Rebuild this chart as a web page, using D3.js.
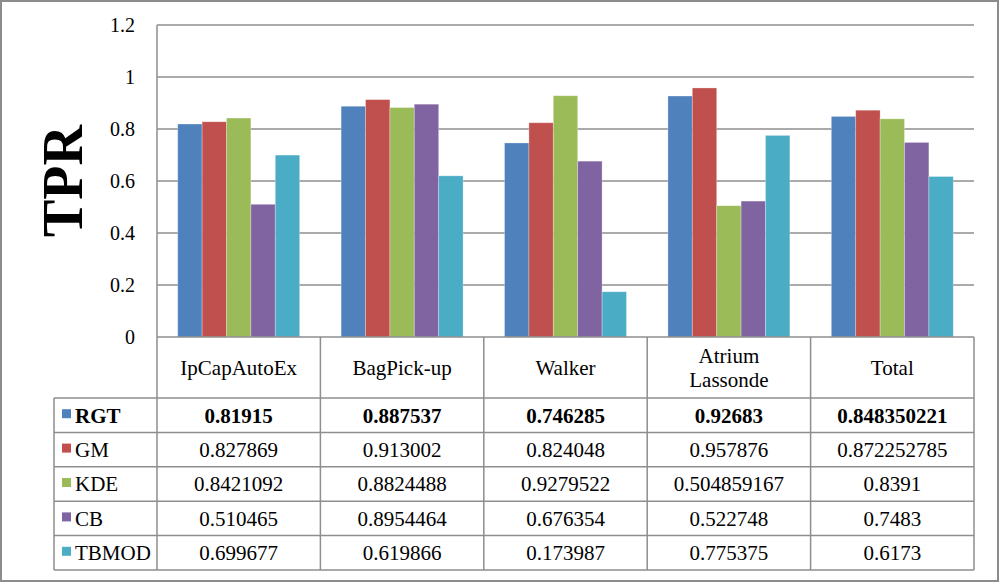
<!DOCTYPE html>
<html>
<head>
<meta charset="utf-8">
<script src="https://cdn.jsdelivr.net/npm/d3@7"></script>
<style>
  body { margin: 0; background: #fff; }
  text { font-family: "Liberation Serif", "Times New Roman", serif; fill: #000; }
</style>
</head>
<body>
<div id="chart"></div>
<script>
// categories, series and values (from the data table)
const categories = ["IpCapAutoEx", "BagPick-up", "Walker", "Atrium\nLassonde", "Total"];
const seriesNames = ["RGT", "GM", "KDE", "CB", "TBMOD"];
const seriesColors = ["#4F81BD", "#C0504D", "#9BBB59", "#8064A2", "#4BACC6"];
const RGT = [0.81915, 0.887537, 0.746285, 0.92683, 0.848350221];
const GM = [0.827869, 0.913002, 0.824048, 0.957876, 0.872252785];
const KDE = [0.8421092, 0.8824488, 0.9279522, 0.504859167, 0.8391];
const CB = [0.510465, 0.8954464, 0.676354, 0.522748, 0.7483];
const TBMOD = [0.699677, 0.619866, 0.173987, 0.775375, 0.6173];
const yTicks = [0, 0.2, 0.4, 0.6, 0.8, 1, 1.2];

const seriesValues = [RGT, GM, KDE, CB, TBMOD];
const labelsText = [
  ["0.81915", "0.887537", "0.746285", "0.92683", "0.848350221"],
  ["0.827869", "0.913002", "0.824048", "0.957876", "0.872252785"],
  ["0.8421092", "0.8824488", "0.9279522", "0.504859167", "0.8391"],
  ["0.510465", "0.8954464", "0.676354", "0.522748", "0.7483"],
  ["0.699677", "0.619866", "0.173987", "0.775375", "0.6173"]
];

const W = 1000, H = 583;
const plotLeft = 157, plotRight = 974, plotTop = 25, zeroY = 337;
const headerBottom = 398, rowH = 34.4, legendLeft = 54;
const gridColor = "#8e8e8e";

const svg = d3.select("#chart").append("svg")
  .attr("width", W).attr("height", H);

// outer frame
svg.append("rect")
  .attr("x", 1).attr("y", 1).attr("width", 997).attr("height", 580)
  .attr("fill", "#fff").attr("stroke", "#8c8c8c").attr("stroke-width", 2);

const x = d3.scaleBand().domain(categories).range([plotLeft, plotRight]);
const y = d3.scaleLinear().domain([0, 1.2]).range([zeroY, plotTop]);
const xs = d3.scaleBand().domain(seriesNames)
  .range([0, x.bandwidth()]).paddingOuter(0.85).paddingInner(0);

// gridlines
svg.append("g").selectAll("line")
  .data(yTicks.filter(d => d > 0))
  .join("line")
  .attr("x1", plotLeft).attr("x2", plotRight)
  .attr("y1", d => y(d)).attr("y2", d => y(d))
  .attr("stroke", gridColor).attr("stroke-width", 1.5);

// y tick labels
svg.append("g").selectAll("text")
  .data(yTicks)
  .join("text")
  .attr("x", 135).attr("y", d => y(d))
  .attr("dy", "0.35em")
  .attr("text-anchor", "end")
  .style("font-size", "20px")
  .text(d => d3.format("")(d));

// bars
const groups = svg.append("g").selectAll("g")
  .data(seriesNames)
  .join("g")
  .attr("fill", (d, i) => seriesColors[i]);

groups.selectAll("rect")
  .data((s, si) => categories.map((c, ci) => ({ c, s, v: seriesValues[si][ci] })))
  .join("rect")
  .attr("x", d => x(d.c) + xs(d.s))
  .attr("y", d => y(d.v))
  .attr("width", xs.bandwidth())
  .attr("height", d => zeroY - y(d.v))
  .attr("stroke", "#fff").attr("stroke-opacity", 0.35).attr("stroke-width", 0.8);

// table lines
const tableBottom = headerBottom + rowH * seriesNames.length;
const tl = svg.append("g").attr("stroke", gridColor).attr("stroke-width", 1.5);
tl.append("line").attr("x1", plotLeft).attr("x2", plotRight).attr("y1", zeroY).attr("y2", zeroY);
d3.range(seriesNames.length + 1).forEach(i => {
  const yy = headerBottom + i * rowH;
  tl.append("line").attr("x1", legendLeft).attr("x2", plotRight).attr("y1", yy).attr("y2", yy);
});
tl.append("line").attr("x1", plotLeft).attr("x2", plotLeft).attr("y1", plotTop).attr("y2", tableBottom);
categories.forEach(c => {
  const xx = x(c) + x.bandwidth();
  tl.append("line").attr("x1", xx).attr("x2", xx).attr("y1", zeroY).attr("y2", tableBottom);
});
tl.append("line").attr("x1", legendLeft).attr("x2", legendLeft).attr("y1", headerBottom).attr("y2", tableBottom);

// category header labels
svg.append("g").selectAll("text")
  .data(categories)
  .join("text")
  .attr("text-anchor", "middle")
  .style("font-size", "21px")
  .each(function (c) {
    const lines = c.split("\n");
    const cy = (zeroY + headerBottom) / 2;
    d3.select(this).selectAll("tspan")
      .data(lines)
      .join("tspan")
      .attr("x", x(c) + x.bandwidth() / 2)
      .attr("y", (d, i) => cy + (i - (lines.length - 1) / 2) * 24)
      .attr("dy", "0.35em")
      .text(d => d);
  });

// legend column + values
const rows = svg.append("g").selectAll("g")
  .data(seriesNames)
  .join("g")
  .attr("transform", (d, i) => `translate(0,${headerBottom + i * rowH + rowH / 2})`);

rows.append("rect")
  .attr("x", 62).attr("y", -6).attr("width", 9).attr("height", 9)
  .attr("fill", (d, i) => seriesColors[i]);

rows.append("text")
  .attr("x", 75).attr("dy", "0.35em")
  .style("font-size", "21px")
  .style("font-weight", (d, i) => i === 0 ? "bold" : "normal")
  .text(d => d);

rows.selectAll("text.val")
  .data((s, si) => categories.map((c, ci) => ({ c, t: labelsText[si][ci], bold: si === 0 })))
  .join("text")
  .attr("class", "val")
  .attr("x", d => x(d.c) + x.bandwidth() / 2)
  .attr("dy", "0.35em")
  .attr("text-anchor", "middle")
  .style("font-size", "21px")
  .style("font-weight", d => d.bold ? "bold" : "normal")
  .text(d => d.t);

// y-axis title
svg.append("text")
  .attr("transform", "translate(82,181) rotate(-90)")
  .attr("text-anchor", "middle")
  .style("font-size", "56px")
  .style("font-weight", "bold")
  .text("TPR");
</script>
</body>
</html>
